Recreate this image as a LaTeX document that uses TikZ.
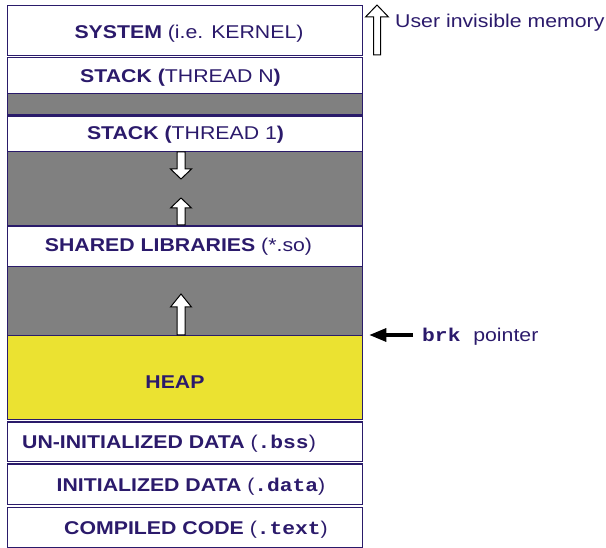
\documentclass[tikz,border=0pt]{standalone}
\usepackage{fontspec}
\setmainfont{Liberation Sans}
\newfontfamily\codefont{Liberation Mono}
\usetikzlibrary{arrows.meta}
\definecolor{ink}{HTML}{2B1A6B}
\definecolor{rim}{HTML}{2A1B6A}
\definecolor{freegray}{HTML}{808080}
\definecolor{heapyellow}{HTML}{EBE231}
\newcommand\cd[1]{{\codefont\bfseries #1}}
% hollow block arrow: x, tail y, head-base y, tip y, shaft half width, head half width
\newcommand\blockarrow[6]{%
  \draw[hollow] ({#1-#5},#2) -- ({#1-#5},#3) -- ({#1-#6},#3) -- (#1,#4)
    -- ({#1+#6},#3) -- ({#1+#5},#3) -- ({#1+#5},#2) -- cycle;}
\begin{document}
\begin{tikzpicture}[x=1pt,y=-1pt,
  band/.style={draw=rim, line width=1.3pt, fill=white, inner sep=0pt,
    minimum width=355pt, anchor=north west},
  freeband/.style={band, fill=freegray},
  heapband/.style={band, fill=heapyellow},
  label/.style={font=\fontsize{18.5}{20}\selectfont, text=ink, xscale=1.15,
    inner sep=0pt, anchor=base},
  hollow/.style={draw=black, line width=1pt, fill=white, line join=miter},
  brkarrow/.style={draw=black, line width=3.2pt,
    -{Triangle[length=17pt,width=13pt]}}]
\useasboundingbox (0,0) rectangle (606,548);

% free (unmapped) regions
\node[freeband, minimum height=21pt]   (free1) at (7,93)  {};
\node[freeband, minimum height=74.5pt] (free2) at (7,151) {};
\node[freeband, minimum height=69pt]   (free3) at (7,266) {};

% mapped segments
\node[band, minimum height=50pt]   (system)   at (7,5)     {};
\node[band, minimum height=36pt]   (stackN)   at (7,57)    {};
\node[band, minimum height=35.5pt] (stack1)   at (7,115.5) {};
\node[band, minimum height=40pt]   (shared)   at (7,226)   {};
\node[heapband, minimum height=84pt] (heap)   at (7,335)   {};
\node[band, minimum height=39.5pt] (uninit)   at (7,421.5) {};
\node[band, minimum height=40.5pt] (init)     at (7,463.5) {};
\node[band, minimum height=40pt]   (compiled) at (7,506.5) {};

% segment labels
\node[label] (tsystem)   at (189,38.7) {\textbf{SYSTEM} (i.e. KERNEL)};
\node[label] (tstackN)   at (180.5,82.7) {\textbf{STACK (}THREAD N\textbf{)}};
\node[label] (tstack1)   at (185.5,140) {\textbf{STACK (}THREAD 1\textbf{)}};
\node[label] (tshared)   at (178.5,252) {\textbf{SHARED LIBRARIES} (*.so)};
\node[label] (theap)     at (175,389) {\textbf{HEAP}};
\node[label] (tuninit)   at (169,449) {\textbf{UN-INITIALIZED DATA} (\cd{.bss})};
\node[label] (tinit)     at (191,492) {\textbf{INITIALIZED DATA} (\cd{.data})};
\node[label] (tcompiled) at (196,534) {\textbf{COMPILED CODE} (\cd{.text})};

% growth directions
\blockarrow{181}{152}{169}{179}{4}{10.5}
\blockarrow{181}{225}{208}{198}{4}{10.5}
\blockarrow{181}{335}{307}{294}{4}{10.5}

% user invisible memory marker
\blockarrow{377}{55}{17}{5}{3.5}{11.5}
\node[label, anchor=base west] (invisible) at (395,28) {User invisible memory};

% brk pointer
\node[label, anchor=base west] (brk) at (422,342) {\cd{brk }pointer};
\coordinate (brkfrom) at (413,335);
\draw[brkarrow, shorten >=6pt] (brkfrom) -- (heap.north east);
\end{tikzpicture}
\end{document}
